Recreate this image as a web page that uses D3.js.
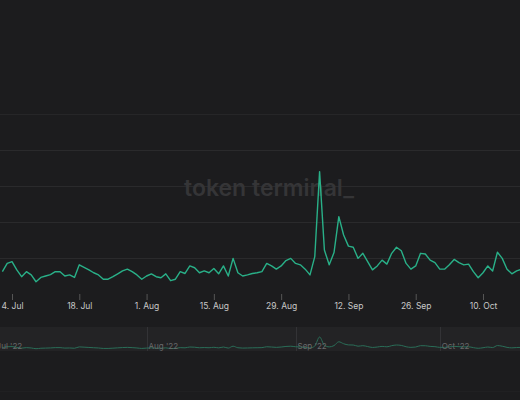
<!DOCTYPE html>
<html><head><meta charset="utf-8">
<script src="https://cdn.jsdelivr.net/npm/d3@7"></script>
<style>html,body{margin:0;padding:0;background:#1c1c1e;}svg{display:block;}</style>
</head><body><svg id="c" width="520" height="400"></svg>
<script>
const startDate = "2022-07-02";
const values = [0.62,0.85,0.90,0.67,0.48,0.62,0.53,0.34,0.46,0.50,0.54,0.62,0.62,0.50,0.53,0.46,0.81,0.74,0.67,0.59,0.53,0.41,0.41,0.48,0.56,0.64,0.69,0.62,0.53,0.41,0.50,0.56,0.48,0.45,0.56,0.37,0.41,0.62,0.57,0.78,0.73,0.59,0.64,0.59,0.71,0.56,0.78,0.50,0.99,0.59,0.50,0.53,0.57,0.59,
0.62,0.85,0.78,0.69,0.78,0.93,0.99,0.85,0.81,0.69,0.53,1.04,3.40,1.22,0.81,1.15,2.15,1.64,1.33,1.30,0.99,1.13,0.90,0.67,0.78,0.94,0.83,1.13,1.30,1.20,0.85,0.69,0.78,1.13,1.11,0.94,0.87,0.69,0.69,0.81,0.96,0.87,0.81,0.83,0.62,0.45,0.59,0.78,0.64,1.16,0.99,0.69,0.56,0.64,0.69];
const xTickLabels = ["4. Jul","18. Jul","1. Aug","15. Aug","29. Aug","12. Sep","26. Sep","10. Oct"];
const xTickDates = ["2022-07-04","2022-07-18","2022-08-01","2022-08-15","2022-08-29","2022-09-12","2022-09-26","2022-10-10"];
const navLabels = ["Jul '22","Aug '22","Sep '22","Oct '22"];
const navDates = ["2022-07-01","2022-08-01","2022-09-01","2022-10-01"];
const yTicks = [1,2,3,4,5];

const parse = d3.utcParse("%Y-%m-%d");
const t0 = parse(startDate);
const data = values.map((v,i)=>({d:d3.utcDay.offset(t0,i),v}));
const svg = d3.select("#c");
svg.append("rect").attr("width",520).attr("height",400).attr("fill","#1c1c1e");

const x = d3.scaleUtc().domain([parse("2022-07-04"),parse("2022-10-10")]).range([12,483]);
const y = d3.scaleLinear().domain([0,6]).range([294,78]);

svg.append("g").selectAll("line").data(yTicks).join("line")
  .attr("x1",0).attr("x2",520).attr("y1",d=>Math.round(y(d))+0.5).attr("y2",d=>Math.round(y(d))+0.5)
  .attr("stroke",d=>d>=5?"#262628":"#2a2a2c").attr("stroke-width",1);

svg.append("text").attr("x",269).attr("y",196).attr("text-anchor","middle")
  .attr("font-family","Inter, 'Open Sans', sans-serif").attr("font-size",23).attr("font-weight",600)
  .attr("fill","#353537").text("token terminal_");

svg.append("path").datum(data).attr("fill","none").attr("stroke","#29b088").attr("stroke-width",1.4)
  .attr("stroke-linejoin","round")
  .attr("d",d3.line().x(d=>x(d.d)).y(d=>y(d.v)));

const ax = svg.append("g").attr("transform","translate(0,294)")
  .call(d3.axisBottom(x).tickValues(xTickDates.map(parse)).tickFormat((d,i)=>xTickLabels[i]).tickSize(6).tickPadding(3));
ax.select(".domain").remove();
ax.selectAll(".tick line").attr("stroke","#555");
ax.selectAll("text").attr("fill","#c8c8c8").attr("font-family","Inter, sans-serif").attr("font-size",8.5);

svg.append("rect").attr("x",0).attr("y",327).attr("width",520).attr("height",24).attr("fill","#232325");
svg.append("g").selectAll("line").data(navDates).join("line")
  .attr("x1",d=>Math.round(x(parse(d)))+0.5).attr("x2",d=>Math.round(x(parse(d)))+0.5)
  .attr("y1",327).attr("y2",351).attr("stroke","#333336");
const ny = d3.scaleLinear().domain([0,3.4]).range([350,337]);
svg.append("path").datum(data).attr("fill","none").attr("stroke","#2a6e58").attr("stroke-width",1)
  .attr("d",d3.line().curve(d3.curveMonotoneX).x(d=>x(d.d)).y(d=>ny(d.v)));
svg.append("g").selectAll("text").data(navDates).join("text")
  .attr("x",(d,i)=>x(parse(d))+(i==0?-1:2)).attr("y",349)
  .attr("font-family","Inter, sans-serif").attr("font-size",8).attr("fill","#6a6a6c")
  .text((d,i)=>navLabels[i]);
svg.append("line").attr("x1",0).attr("x2",520).attr("y1",391.5).attr("y2",391.5).attr("stroke","#202022");
</script></body></html>
